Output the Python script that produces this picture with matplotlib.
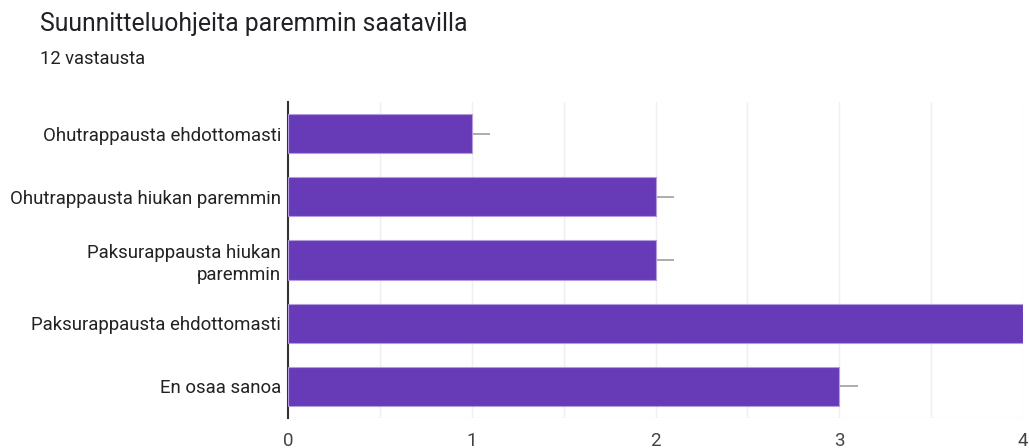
import matplotlib
matplotlib.use("Agg")
import matplotlib.pyplot as plt
from matplotlib.ticker import MultipleLocator

plt.rcParams['font.family'] = ['Roboto', 'DejaVu Sans']

# answers, top to bottom, and how many chose each
answers = [
    "Ohutrappausta ehdottomasti",
    "Ohutrappausta hiukan paremmin",
    "Paksurappausta hiukan\nparemmin",
    "Paksurappausta ehdottomasti",
    "En osaa sanoa",
]
counts = [1, 2, 2, 4, 3]
whisker = 0.1

fig = plt.figure(figsize=(10.29, 4.48), dpi=100)
ax = fig.add_axes([288 / 1029, 30 / 448, 735 / 1029, 316 / 448])

ypos = list(range(len(answers)))
ax.barh(ypos, counts, height=0.62, color="#673ab7", edgecolor="#b39ddb",
        linewidth=0.8, zorder=3)
ax.errorbar(counts, ypos, xerr=[[0] * len(counts), [whisker] * len(counts)],
            fmt="none", ecolor="#9e9e9e", elinewidth=1.2, capsize=0, zorder=2)

ax.set_ylim(len(answers) - 0.5, -0.5)
ax.set_xlim(0, 4)
ax.set_yticks(ypos)
ax.set_yticklabels(answers, fontsize=13.4, color="#222222", linespacing=1.25)
ax.xaxis.set_major_locator(MultipleLocator(1))
ax.xaxis.set_minor_locator(MultipleLocator(0.5))
ax.tick_params(axis="x", labelsize=13.5, colors="#444444", length=0, pad=10, which="both")
ax.tick_params(axis="y", length=0, pad=5)
ax.grid(axis="x", which="both", color="#efefef", linewidth=1, zorder=0)

for side in ("top", "right", "bottom"):
    ax.spines[side].set_visible(False)
ax.spines["left"].set_color("#333333")
ax.spines["left"].set_linewidth(1.5)
ax.axhline(len(answers) - 0.5, color="#efefef", linewidth=1, zorder=1)

fig.text(40 / 1029, 1 - 24 / 448, "Suunnitteluohjeita paremmin saatavilla",
         fontsize=17.8, color="#202124", va="center", ha="left")
fig.text(40 / 1029, 1 - 59 / 448, "12 vastausta",
         fontsize=13.2, color="#202124", va="center", ha="left")

fig.savefig("out.png", dpi=100)
